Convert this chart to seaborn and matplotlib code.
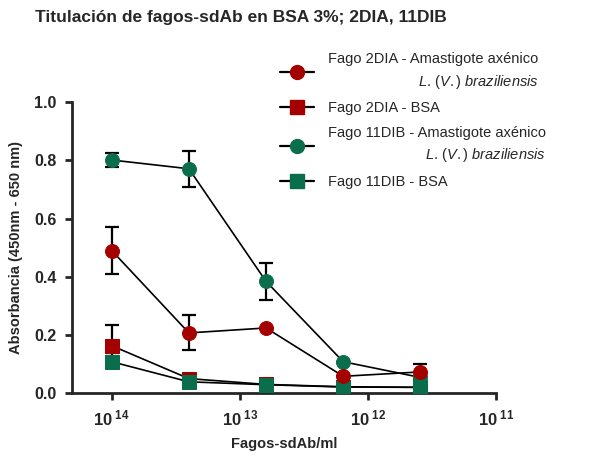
import numpy as np
import pandas as pd
import matplotlib
matplotlib.use("Agg")
import matplotlib.pyplot as plt
from matplotlib.lines import Line2D
from matplotlib.ticker import FixedLocator, FuncFormatter, NullLocator
import seaborn as sns

# ---- data ----
concentrations = [1e14, 2.5e13, 6.25e12, 1.5625e12, 3.90625e11]
series_names = [
    "Fago 2DIA - Amastigote axénico\n$\\mathit{L.\\,(V.)\\ braziliensis}$",
    "Fago 2DIA - BSA",
    "Fago 11DIB - Amastigote axénico\n$\\mathit{L.\\,(V.)\\ braziliensis}$",
    "Fago 11DIB - BSA",
]
val_2dia_ama = [0.490, 0.207, 0.224, 0.058, 0.073]
err_2dia_ama = [0.082, 0.060, 0.000, 0.000, 0.027]
val_2dia_bsa = [0.163, 0.050, 0.030, 0.022, 0.020]
err_2dia_bsa = [0.070, 0.000, 0.000, 0.000, 0.000]
val_11dib_ama = [0.801, 0.771, 0.384, 0.108, 0.054]
err_11dib_ama = [0.024, 0.062, 0.063, 0.000, 0.000]
val_11dib_bsa = [0.108, 0.039, 0.029, 0.021, 0.020]
err_11dib_bsa = [0.018, 0.000, 0.000, 0.000, 0.000]

y_ticks = [0.0, 0.2, 0.4, 0.6, 0.8, 1.0]
x_ticks = [1e14, 1e13, 1e12, 1e11]

red = "#A50000"
green = "#0A6E4C"

series = [
    (series_names[1], val_2dia_bsa, err_2dia_bsa, red, "s"),
    (series_names[3], val_11dib_bsa, err_11dib_bsa, green, "s"),
    (series_names[2], val_11dib_ama, err_11dib_ama, green, "o"),
    (series_names[0], val_2dia_ama, err_2dia_ama, red, "o"),
]

sns.set_style("ticks")
plt.rcParams["font.family"] = ["Liberation Sans", "DejaVu Sans"]
plt.rcParams["mathtext.fontset"] = "custom"
plt.rcParams["mathtext.rm"] = "Liberation Sans"
plt.rcParams["mathtext.bf"] = "Liberation Sans:bold"
plt.rcParams["mathtext.it"] = "Liberation Sans:italic"

fig = plt.figure(figsize=(6.0, 4.62), dpi=100)
ax = fig.add_axes([0.12, 0.149, 0.707, 0.630])

for name, vals, errs, col, mk in series:
    df = pd.DataFrame({"x": concentrations, "y": vals})
    ax.errorbar(df["x"], df["y"], yerr=errs, fmt="none", ecolor="black",
                elinewidth=1.6, capsize=5, capthick=1.6, zorder=2)
    sns.lineplot(data=df, x="x", y="y", ax=ax, color="black", linewidth=1.2,
                 marker=mk, markersize=10 if mk == "o" else 9.5,
                 markerfacecolor=col, markeredgecolor=col, zorder=3)

ax.set_xscale("log")
ax.set_xlim(10 ** 14.31, 1e11)
ax.set_ylim(0, 1.0)
ax.xaxis.set_major_locator(FixedLocator(x_ticks))
ax.xaxis.set_minor_locator(NullLocator())
ax.xaxis.set_major_formatter(FuncFormatter(
    lambda v, p: r"$\mathbf{10^{\ %d}}$" % int(round(np.log10(v)))))
ax.set_yticks(y_ticks)
ax.set_yticklabels([f"{t:.1f}" for t in y_ticks])

for s in ["top", "right"]:
    ax.spines[s].set_visible(False)
for s in ["left", "bottom"]:
    ax.spines[s].set_linewidth(2.0)
ax.tick_params(axis="both", which="major", direction="out", length=5,
               width=2.0, labelsize=12, pad=6)
for lbl in ax.get_yticklabels():
    lbl.set_fontweight("bold")
    lbl.set_fontsize(11.5)

ax.set_xlabel("Fagos-sdAb/ml", fontsize=10.5, fontweight="bold", labelpad=6)
ax.set_ylabel("Absorbancia (450nm - 650 nm)", fontsize=10.5,
              fontweight="bold", labelpad=8)
fig.text(0.402, 0.962, "Titulación de fagos-sdAb en BSA 3%; 2DIA, 11DIB",
         ha="center", va="center", fontsize=12.5, fontweight="bold")

# legend
leg_order = [
    (series_names[0], red, "o"),
    (series_names[1], red, "s"),
    (series_names[2], green, "o"),
    (series_names[3], green, "s"),
]
handles = [Line2D([0], [0], color="black", linewidth=1.6, marker=mk,
                  markersize=10 if mk == "o" else 9.5,
                  markerfacecolor=c, markeredgecolor=c)
           for _, c, mk in leg_order]
labels = [n for n, _, _ in leg_order]
leg = fig.legend(handles, labels, loc="upper left",
                 bbox_to_anchor=(0.445, 0.915), frameon=False,
                 fontsize=10.5, handlelength=2.3, handletextpad=1.0,
                 labelspacing=0.72)
for t in leg.get_texts():
    t.set_multialignment("right")
    t.set_linespacing(1.5)

fig.savefig("out.png", dpi=100)
